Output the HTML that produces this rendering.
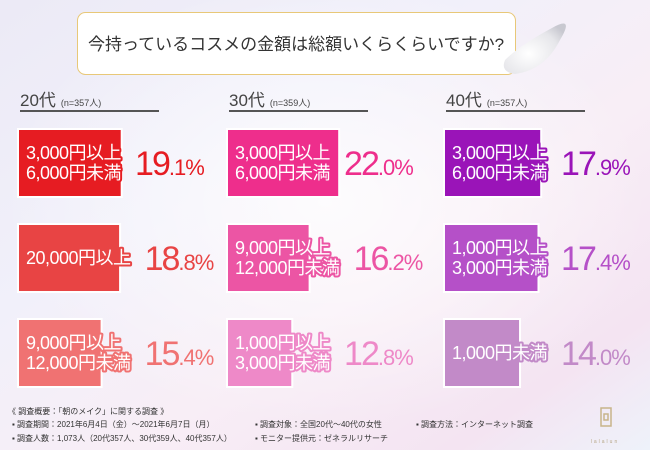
<!DOCTYPE html>
<html><head><meta charset="utf-8">
<style>
html,body{margin:0;padding:0;}
body{width:650px;height:450px;overflow:hidden;font-family:"Liberation Sans","Noto Sans CJK JP",sans-serif;}
svg text{font-family:"Liberation Sans","Noto Sans CJK JP",sans-serif;}
</style></head>
<body>
<svg id="chart" width="650" height="450" viewBox="0 0 650 450" xmlns="http://www.w3.org/2000/svg">
<defs>
<linearGradient id="bg" x1="0" y1="0" x2="1" y2="1">
<stop offset="0" stop-color="#eceaf6"/><stop offset="0.35" stop-color="#f1f0fa"/><stop offset="0.6" stop-color="#f8eef6"/><stop offset="0.85" stop-color="#f4e4f2"/><stop offset="1" stop-color="#eef2fa"/>
</linearGradient>
<radialGradient id="glow" cx="0.5" cy="0.45" r="0.5"><stop offset="0" stop-color="#ffffff" stop-opacity="0.8"/><stop offset="1" stop-color="#ffffff" stop-opacity="0"/></radialGradient>
<radialGradient id="cream" cx="0.4" cy="0.6" r="0.7"><stop offset="0" stop-color="#ffffff"/><stop offset="0.7" stop-color="#e6e6ea"/><stop offset="1" stop-color="#c8c8d0"/></radialGradient>
</defs>
<rect width="650" height="450" fill="url(#bg)"/>
<rect width="650" height="450" fill="url(#glow)"/>
<g>
<rect x="77.5" y="12.5" width="438" height="62" rx="8" fill="#fff" stroke="#e8c878" stroke-width="1"/>
<text x="296" y="50" text-anchor="middle" font-size="17" fill="#333">今持っているコスメの金額は総額いくらくらいですか?</text>
</g>
<path d="M560 40 Q575 15 552 28 Q520 45 505 60 Q500 72 515 74 Q545 70 560 40 Z" fill="url(#cream)"/>
<g id="groups"></g>
<g font-size="8" fill="#333">
<text x="8" y="414">《 調査概要：「朝のメイク」に関する調査 》</text>
<text x="12" y="427">▪ 調査期間：2021年6月4日（金）～2021年6月7日（月）</text>
<text x="12" y="441">▪ 調査人数：1,073人（20代357人、30代359人、40代357人）</text>
<text x="255" y="427">▪ 調査対象：全国20代～40代の女性</text>
<text x="255" y="441">▪ モニター提供元：ゼネラルリサーチ</text>
<text x="416" y="427">▪ 調査方法：インターネット調査</text>
</g>
<g stroke="#c8b48a" fill="none" stroke-width="1.5">
<rect x="601" y="408" width="10" height="18"/><rect x="604" y="414" width="4" height="6"/>
<text x="605" y="443" font-size="5" fill="#b8a888" stroke="none" text-anchor="middle" letter-spacing="2">lalalun</text>
</g>
</svg>
<script>
const groupNames = ["20代","30代","40代"];
const groupN = ["(n=357人)","(n=359人)","(n=357人)"];
const labels20 = [["3,000円以上","6,000円未満"],["20,000円以上"],["9,000円以上","12,000円未満"]];
const labels30 = [["3,000円以上","6,000円未満"],["9,000円以上","12,000円未満"],["1,000円以上","3,000円未満"]];
const labels40 = [["3,000円以上","6,000円未満"],["1,000円以上","3,000円未満"],["1,000円未満"]];
const values20 = [19.1,18.8,15.4];
const values30 = [22.0,16.2,12.8];
const values40 = [17.9,17.4,14.0];
const allLabels=[labels20,labels30,labels40];
const allValues=[values20,values30,values40];
const colors=[["#e61c22","#e84444","#f07272"],["#ee2e8c","#ec55a4","#ee89c8"],["#9a14b8","#b550c8","#c28ac8"]];
const NS="http://www.w3.org/2000/svg";
const colX=[18,227,444];
const rowY=[129,224,319];
const barH=68;
const pxPerPct=[5.43,5.1,5.43];
function xScale(g,v){return v*pxPerPct[g];}
function el(t,a,p){const e=document.createElementNS(NS,t);for(const k in a)e.setAttribute(k,a[k]);p.appendChild(e);return e;}
const root=document.getElementById('groups');
for(let g=0;g<3;g++){
  const G=el('g',{},root);
  
  
  const x0=colX[g];
  const h=el('text',{x:x0+2,y:106,'font-size':17,fill:'#444'},G);
  
  
  h.textContent=groupNames[g];
  const n=el('tspan',{'font-size':9,dx:5},h);n.textContent=groupN[g];
  const u=el('rect',{x:x0+2,y:110,width:139,height:2,fill:'#555'},G);
  
  
  for(let r=0;r<3;r++){
    const v=allValues[g][r], lab=allLabels[g][r], c=colors[g][r];
    const y=rowY[r];
    const w=xScale(g,v);
    const b=el('rect',{x:x0,y:y,width:w,height:barH,fill:c,stroke:'#fff','stroke-width':2},G);
    
    
    const cy=y+barH/2;
    const lines=lab.length;
    let maxLen=0;
    lab.forEach((s,i)=>{
      const t=el('text',{x:x0+8,y:cy+6+(i-(lines-1)/2)*20,'font-size':18,fill:'#fff',stroke:c,'stroke-width':4,'paint-order':'stroke','stroke-linejoin':'round','letter-spacing':'-0.5'},G);
      
      
      t.textContent=s;
      maxLen=Math.max(maxLen,t.getComputedTextLength());
    });
    const px=x0+8+maxLen+14;
    const p=el('text',{x:px,y:cy+12,'font-size':34,fill:c,'letter-spacing':'-2'},G);
    
    
    const parts=v.toFixed(1).split('.');
    p.appendChild(document.createTextNode(parts[0]));
    const s=el('tspan',{'font-size':22,'letter-spacing':'-1'},p);s.textContent='.'+parts[1]+'%';
  }
}
</script>
</body></html>
